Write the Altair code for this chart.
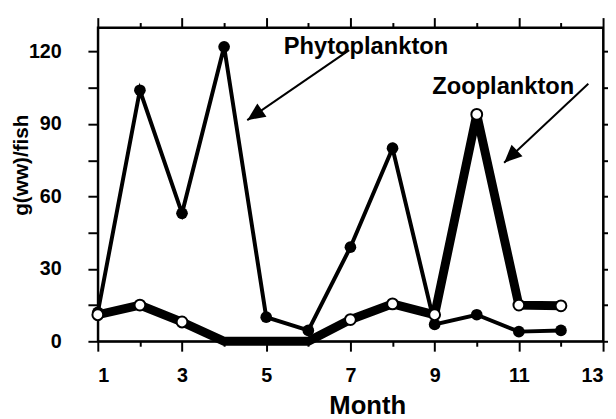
import altair as alt
import pandas as pd

months = list(range(1, 13))
phyto = [12, 104, 53, 122, 10, 4.5, 39, 80, 7, 11, 4, 4.5]
zoo = [11, 15, 8, 0, 0, 0, 9, 15.5, 11, 94, 15, 14.7]

x_ticks = list(range(1, 14))
y_ticks = [0, 15, 30, 45, 60, 75, 90, 105, 120]

# annotations: label, text position, arrow start, arrow tip, arrow direction (deg)
ann_labels = ["Phytoplankton", "Zooplankton"]
ann_text_x = [7.37, 10.63]
ann_text_y = [119.0, 102.3]
arrow_x1 = [6.97, 12.65]
arrow_y1 = [120.6, 106.7]
arrow_x2 = [4.55, 10.65]
arrow_y2 = [91.6, 74.0]
arrow_angle = [235.4, 226.7]

FONT = "Liberation Sans"

ph_df = pd.DataFrame({"month": months, "value": phyto})
zo_df = pd.DataFrame({"month": months, "value": zoo})
zo_pts = zo_df[zo_df["value"] > 0]
ann_df = pd.DataFrame({
    "label": ann_labels, "tx": ann_text_x, "ty": ann_text_y,
    "x1": arrow_x1, "y1": arrow_y1, "x2": arrow_x2, "y2": arrow_y2,
    "angle": arrow_angle,
})

xscale = alt.Scale(domain=[1, 13], nice=False, zero=False)
yscale = alt.Scale(domain=[0, 130], nice=False)

tick_cond = {"condition": {"test": "datum.value % 2 === 1", "value": 10}, "value": 5}

x_bottom = alt.Axis(
    orient="bottom", values=x_ticks, title="Month",
    labelExpr="datum.value % 2 === 1 ? datum.label : ''",
    tickSize=tick_cond, labelPadding=15,
    titleFontSize=26, titleX=273, titleY=73, titleBaseline="alphabetic",
)
x_top = alt.Axis(orient="top", values=x_ticks, labels=False, title=None,
                 tickSize=tick_cond)
y_left = alt.Axis(
    orient="left", values=y_ticks, title="g(ww)/fish",
    labelExpr="datum.value % 30 === 0 ? datum.label : ''",
    tickSize=10, labelPadding=27,
    titleFontSize=21, titleX=-77, titleY=139, titleBaseline="middle",
    titleAlign="center",
)
y_right = alt.Axis(orient="right", values=y_ticks, labels=False, title=None,
                   tickSize=10)

zoo_line = alt.Chart(zo_df).mark_line(color="black", strokeWidth=9).encode(
    x=alt.X("month:Q", scale=xscale, axis=x_bottom),
    y=alt.Y("value:Q", scale=yscale, axis=y_left),
)
ph_line = alt.Chart(ph_df).mark_line(color="black", strokeWidth=4).encode(
    x=alt.X("month:Q", scale=xscale, axis=x_top),
    y=alt.Y("value:Q", scale=yscale, axis=y_right),
)
ph_pts = alt.Chart(ph_df).mark_point(filled=True, color="black", size=140, opacity=1).encode(
    x=alt.X("month:Q", scale=xscale, axis=None),
    y=alt.Y("value:Q", scale=yscale, axis=None),
)
zo_points = alt.Chart(zo_pts).mark_point(
    filled=True, fill="white", stroke="black", strokeWidth=2, size=120, opacity=1
).encode(
    x=alt.X("month:Q", scale=xscale, axis=None),
    y=alt.Y("value:Q", scale=yscale, axis=None),
)
arrows = alt.Chart(ann_df).mark_rule(color="black", strokeWidth=2).encode(
    x=alt.X("x1:Q", scale=xscale, axis=None),
    y=alt.Y("y1:Q", scale=yscale, axis=None),
    x2="x2:Q", y2="y2:Q",
)
heads = alt.Chart(ann_df).mark_point(
    shape="M0,0L0.9,2L-0.9,2Z", filled=True, color="black", size=324, opacity=1
).encode(
    x=alt.X("x2:Q", scale=xscale, axis=None),
    y=alt.Y("y2:Q", scale=yscale, axis=None),
    angle=alt.Angle("angle:Q", scale=None),
)
texts = alt.Chart(ann_df).mark_text(
    font=FONT, fontSize=24, fontWeight="bold", color="black",
    align="center", baseline="alphabetic",
).encode(
    x=alt.X("tx:Q", scale=xscale, axis=None),
    y=alt.Y("ty:Q", scale=yscale, axis=None),
    text="label:N",
)

chart = alt.layer(zoo_line, ph_line, ph_pts, zo_points, arrows, heads, texts).resolve_axis(
    x="independent", y="independent"
).properties(
    width=512, height=318,
    autosize=alt.AutoSizeParams(type="none"),
    padding={"left": 91, "top": 17, "right": 5, "bottom": 76},
    background="white",
).configure_view(stroke="black", strokeWidth=2).configure_axis(
    grid=False, domainColor="black", domainWidth=2, tickColor="black", tickWidth=2,
    labelFont=FONT, labelFontSize=20, labelFontWeight="bold", labelColor="black",
    titleFont=FONT, titleFontWeight="bold", titleColor="black",
)

chart.save("out.html", embed_options={"renderer": "svg", "actions": False})
